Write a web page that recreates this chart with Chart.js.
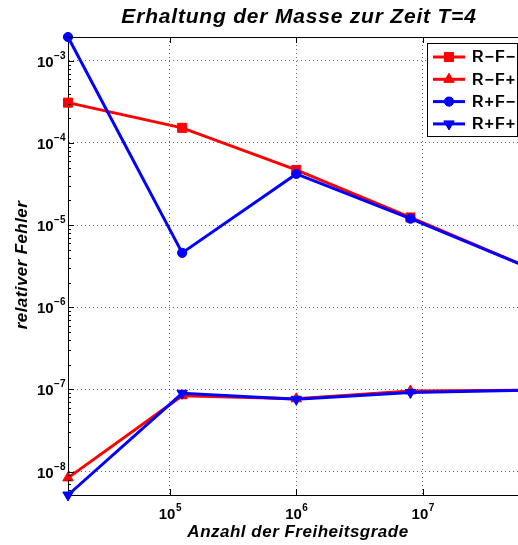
<!DOCTYPE html>
<html>
<head>
<meta charset="utf-8">
<script src="https://cdn.jsdelivr.net/npm/chart.js@4"></script>
<style>
  html, body { margin: 0; padding: 0; background: #fff; overflow: hidden; }
  #wrap { width: 518px; height: 545px; overflow: hidden; position: relative; }
  canvas { display: block; }
</style>
</head>
<body>
<div id="wrap"><canvas id="massChart" width="532" height="545"></canvas></div>
<script>
// degrees of freedom (x) and relative error per variant (y)
const dof = [15625, 125000, 1000000, 8000000, 64000000];
const errRmFm = [3.1e-4, 1.53e-4, 4.7e-5, 1.24e-5, 3.2e-6];
const errRmFp = [8.4e-9, 8.4e-8, 7.7e-8, 9.6e-8, 9.8e-8];
const errRpFm = [1.95e-3, 4.6e-6, 4.2e-5, 1.2e-5, 3.2e-6];
const errRpFp = [5.2e-9, 9.0e-8, 7.6e-8, 9.2e-8, 9.8e-8];
const seriesNames = ['R\u2212F\u2212', 'R\u2212F+', 'R+F\u2212', 'R+F+'];

const xTicks = [1e5, 1e6, 1e7];
const yTicks = [1e-8, 1e-7, 1e-6, 1e-5, 1e-4, 1e-3];

const titleText = 'Erhaltung der Masse zur Zeit T=4';
const xTitle = 'Anzahl der Freiheitsgrade';
const yTitle = 'relativer Fehler';

const FONT = '"Liberation Sans", Arial, Helvetica, sans-serif';
const RED = '#ff0000';
const BLUE = '#0000ff';

const styles = [
    { color: RED, pointStyle: 'rect', radius: 6.4, rotation: 0 },
    { color: RED, pointStyle: 'triangle', radius: 6, rotation: 0 },
    { color: BLUE, pointStyle: 'circle', radius: 4.6, rotation: 0 },
    { color: BLUE, pointStyle: 'triangle', radius: 6, rotation: 180 }
];

const allValues = [...errRmFm, ...errRmFp, ...errRpFm, ...errRpFp];

function toPoints(vals) {
    return vals.map((v, i) => ({ x: dof[i], y: v }));
}

function makeDataset(label, vals, st, order) {
    return {
        label: label,
        data: toPoints(vals),
        borderColor: st.color,
        backgroundColor: st.color,
        borderWidth: 3,
        pointStyle: st.pointStyle,
        pointRadius: st.radius,
        pointRotation: st.rotation,
        pointBackgroundColor: st.color,
        pointBorderColor: st.color,
        pointBorderWidth: 1,
        tension: 0,
        clip: false,
        order: order
    };
}

// draws "10" with a superscript exponent
function drawPower(ctx, exp, x, baseY, align) {
    ctx.letterSpacing = '0px';
    ctx.font = 'bold 15px ' + FONT;
    const bw = ctx.measureText('10').width;
    ctx.font = 'bold 10px ' + FONT;
    const ew = ctx.measureText(exp).width;
    let left = x;
    if (align === 'right') left = x - bw - ew;
    if (align === 'center') left = x - (bw + ew) / 2;
    ctx.textAlign = 'left';
    ctx.textBaseline = 'alphabetic';
    ctx.font = 'bold 15px ' + FONT;
    ctx.fillText('10', left, baseY);
    ctx.font = 'bold 10px ' + FONT;
    ctx.fillText(exp, left + bw + 0.5, baseY - 8);
}

const matlabFrame = {
    id: 'matlabFrame',
    afterDraw(chart) {
        const { ctx, chartArea: a, scales: { x, y } } = chart;
        ctx.save();
        ctx.fillStyle = '#000';
        ctx.strokeStyle = '#000';
        ctx.lineWidth = 1;

        // box top line
        ctx.beginPath();
        ctx.moveTo(a.left, a.top + 0.5);
        ctx.lineTo(a.right, a.top + 0.5);
        ctx.stroke();

        // inner tick marks on y (major + minor)
        ctx.beginPath();
        for (let e = -9; e <= -2; e++) {
            for (let m = 1; m <= 9; m++) {
                const v = m * Math.pow(10, e);
                const py = Math.round(y.getPixelForValue(v)) + 0.5;
                if (py < a.top || py > a.bottom) continue;
                const len = m === 1 ? 6 : 3;
                ctx.moveTo(a.left, py);
                ctx.lineTo(a.left + len, py);
            }
        }
        // inner tick marks on x
        xTicks.forEach(v => {
            const px = Math.round(x.getPixelForValue(v)) + 0.5;
            ctx.moveTo(px, a.bottom);
            ctx.lineTo(px, a.bottom - 6);
            ctx.moveTo(px, a.top);
            ctx.lineTo(px, a.top + 6);
        });
        ctx.stroke();

        // tick labels
        yTicks.forEach(v => {
            const py = y.getPixelForValue(v);
            drawPower(ctx, '\u2212' + Math.round(-Math.log10(v)), 65, py + 6, 'right');
        });
        xTicks.forEach(v => {
            const px = x.getPixelForValue(v);
            drawPower(ctx, String(Math.round(Math.log10(v))), px, 519, 'center');
        });

        // titles
        ctx.textAlign = 'center';
        ctx.textBaseline = 'alphabetic';
        ctx.font = 'italic bold 21px ' + FONT;
        ctx.letterSpacing = '0.8px';
        ctx.fillText(titleText, 299, 23);
        ctx.font = 'italic bold 17px ' + FONT;
        ctx.letterSpacing = '0.5px';
        ctx.fillText(xTitle, 298, 537);
        ctx.save();
        ctx.translate(27, (a.top + a.bottom) / 2 - 1);
        ctx.rotate(-Math.PI / 2);
        ctx.letterSpacing = '0.4px';
        ctx.fillText(yTitle, 0, 0);
        ctx.restore();
        ctx.letterSpacing = '0px';

        // legend
        const lx = 427, ly = 43, lw = 90, lh = 93;
        ctx.fillStyle = '#fff';
        ctx.fillRect(lx, ly, lw, lh);
        ctx.strokeStyle = '#000';
        ctx.strokeRect(lx + 0.5, ly + 0.5, lw, lh);
        seriesNames.forEach((name, i) => {
            const st = styles[i];
            const ry = 57 + i * 22.3;
            ctx.strokeStyle = st.color;
            ctx.fillStyle = st.color;
            ctx.lineWidth = 3;
            ctx.beginPath();
            ctx.moveTo(433, ry);
            ctx.lineTo(465, ry);
            ctx.stroke();
            ctx.lineWidth = 1;
            Chart.helpers.drawPoint(ctx, {
                pointStyle: st.pointStyle,
                radius: st.radius,
                rotation: st.rotation,
                borderWidth: 1
            }, 449, ry);
            ctx.fill();
            ctx.fillStyle = '#000';
            ctx.font = 'bold 16px ' + FONT;
            ctx.letterSpacing = '1px';
            ctx.textAlign = 'left';
            ctx.textBaseline = 'middle';
            ctx.fillText(name, 472, ry + 1);
            ctx.letterSpacing = '0px';
        });
        ctx.restore();
    }
};

const gridStyle = {
    display: true,
    drawTicks: false,
    color: 'rgba(0,0,0,0.6)',
    lineWidth: 1
};

new Chart(document.getElementById('massChart'), {
    type: 'line',
    data: {
        datasets: [
            makeDataset(seriesNames[0], errRmFm, styles[0], 4),
            makeDataset(seriesNames[1], errRmFp, styles[1], 3),
            makeDataset(seriesNames[2], errRpFm, styles[2], 2),
            makeDataset(seriesNames[3], errRpFp, styles[3], 1)
        ]
    },
    options: {
        responsive: false,
        animation: false,
        devicePixelRatio: 1,
        layout: { padding: { left: 68, top: 37, right: 7, bottom: 50 } },
        plugins: {
            legend: { display: false },
            tooltip: { enabled: false },
            title: { display: false }
        },
        scales: {
            x: {
                type: 'logarithmic',
                min: dof[0],
                max: dof[dof.length - 1],
                afterBuildTicks: scale => { scale.ticks = xTicks.map(v => ({ value: v })); },
                ticks: { display: false },
                grid: gridStyle,
                border: { display: true, color: '#000', width: 1, dash: [1, 3] }
            },
            y: {
                type: 'logarithmic',
                min: Math.min(...allValues),
                max: Math.max(...allValues),
                afterBuildTicks: scale => { scale.ticks = yTicks.map(v => ({ value: v })); },
                ticks: { display: false },
                grid: gridStyle,
                border: { display: true, color: '#000', width: 1, dash: [1, 3] }
            }
        }
    },
    plugins: [matlabFrame]
});
</script>
</body>
</html>
